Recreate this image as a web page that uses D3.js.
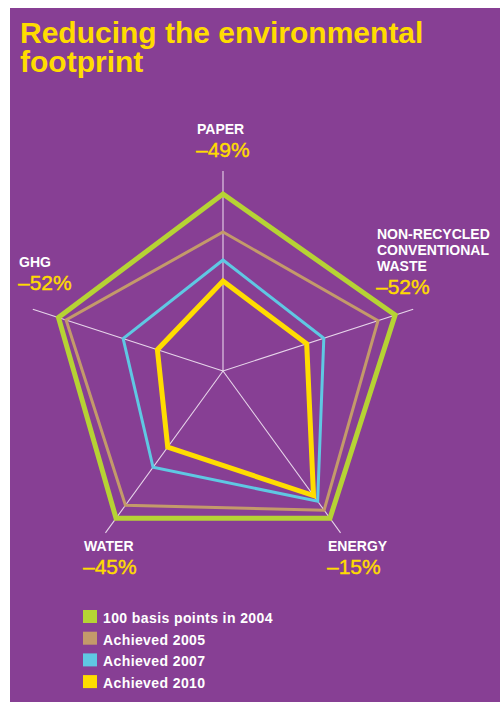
<!DOCTYPE html>
<html><head><meta charset="utf-8">
<script src="https://cdn.jsdelivr.net/npm/d3@7"></script>
<style>
html,body{margin:0;padding:0;background:#fff;}
svg{display:block;font-family:"Liberation Sans",Arial,Helvetica,sans-serif;}
</style></head>
<body>
<svg id="chart" width="500" height="702"></svg>
<script>
// ---- data ----
const axes = ["PAPER", "NON-RECYCLED CONVENTIONAL WASTE", "ENERGY", "WATER", "GHG"];
const axisLabelLines = [["PAPER"], ["NON-RECYCLED", "CONVENTIONAL", "WASTE"], ["ENERGY"], ["WATER"], ["GHG"]];
const reductions = ["–49%", "–52%", "–15%", "–45%", "–52%"];
const seriesNames = ["100 basis points in 2004", "Achieved 2005", "Achieved 2007", "Achieved 2010"];
const base2004 = [88.5, 90.5, 91, 91, 86.5];
const achieved2005 = [69.5, 81.5, 86, 83, 82.5];
const achieved2007 = [55.5, 53, 80.5, 59.5, 52.5];
const achieved2010 = [45, 44, 77, 47, 34.5];
const seriesValues = [base2004, achieved2005, achieved2007, achieved2010];
const colors = ["#b6d334", "#c49a6a", "#5fc8e3", "#ffdc00"];
const widths = [5, 3, 3, 5];

const svg = d3.select("#chart");
// panel
svg.append("rect").attr("x", 10).attr("y", 8).attr("width", 490).attr("height", 694).attr("fill", "#873f94");

// title
svg.append("text").attr("x", 20).attr("y", 43)
  .attr("fill", "#ffdc00").attr("font-weight", "bold").attr("font-size", 30)
  .text("Reducing the environmental");
svg.append("text").attr("x", 20).attr("y", 72)
  .attr("fill", "#ffdc00").attr("font-weight", "bold").attr("font-size", 30)
  .text("footprint");

// radar
const cx = 223, cy = 371, R = 200;
const r = d3.scaleLinear().domain([0, 100]).range([0, R]);
const angle = d3.scaleBand().domain(axes).range([0, 2 * Math.PI]).align(0).paddingInner(0).paddingOuter(0);
const g = svg.append("g").attr("transform", `translate(${cx},${cy})`);

// axes
axes.forEach(a => {
  const t = angle(a);
  g.append("line").attr("x1", 0).attr("y1", 0)
    .attr("x2", R * Math.sin(t)).attr("y2", -R * Math.cos(t))
    .attr("stroke", "#f2e6f4").attr("stroke-width", 1.1).attr("opacity", 0.9);
});

const radial = d3.lineRadial()
  .angle((d, i) => angle(axes[i]))
  .radius(d => r(d))
  .curve(d3.curveLinearClosed);

seriesValues.forEach((vals, k) => {
  g.append("path").attr("d", radial(vals))
    .attr("fill", "none").attr("stroke", colors[k])
    .attr("stroke-width", widths[k]).attr("stroke-linejoin", "miter").attr("stroke-miterlimit", 10);
});

// axis labels
const labelPos = [
  {x: 197, y: 134}, {x: 377, y: 239}, {x: 328, y: 551}, {x: 84, y: 551}, {x: 19, y: 267}
];
axisLabelLines.forEach((lines, i) => {
  const p = labelPos[i];
  lines.forEach((ln, j) => {
    svg.append("text").attr("x", p.x).attr("y", p.y + j * 16)
      .attr("fill", "#ffffff").attr("font-weight", "bold").attr("font-size", 14)
      .text(ln);
  });
  svg.append("text").attr("x", p.x - 1).attr("y", p.y + (lines.length - 1) * 16 + 22.5)
    .attr("fill", "#ffdc00").attr("font-size", 21)
    .attr("stroke", "#ffdc00").attr("stroke-width", 0.4)
    .text(reductions[i]);
});

// legend
const lg = svg.append("g");
seriesNames.forEach((n, i) => {
  const y = 610 + i * 21.7;
  lg.append("rect").attr("x", 83).attr("y", y).attr("width", 14).attr("height", 13)
    .attr("fill", colors[i]);
  lg.append("text").attr("x", 103).attr("y", y + 13)
    .attr("fill", "#ffffff").attr("font-weight", "bold").attr("font-size", 14)
    .attr("letter-spacing", 0.4).text(n);
});
</script>
</body></html>
